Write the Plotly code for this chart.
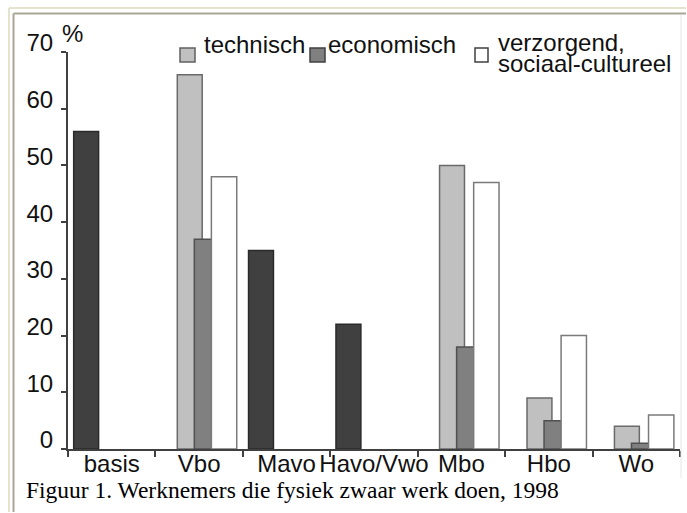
import plotly.graph_objects as go

categories = ["basis", "Vbo", "Mavo", "Havo/Vwo", "Mbo", "Hbo", "Wo"]
algemeen = [56, None, 35, 22, None, None, None]
technisch = [None, 66, None, None, 50, 9, 4]
economisch = [None, 37, None, None, 18, 5, 1]
verzorgend = [None, 48, None, None, 47, 20, 6]
y_ticks = [0, 10, 20, 30, 40, 50, 60, 70]

W, H = 687, 513
L, R, T, B = 68, 7, 52, 64
PW, PH = W - L - R, H - T - B


def px(x):
    return (x - L) / PW


def py(y):
    return (H - B - y) / PH


fig = go.Figure()
fig.add_trace(go.Bar(x=categories, y=algemeen, name="algemeen", showlegend=False,
                     offset=-0.435, width=0.285,
                     marker=dict(color="#404040", line=dict(color="#2a2a2a", width=1.5))))
fig.add_trace(go.Bar(x=categories, y=technisch, name="technisch", showlegend=False,
                     offset=-0.25, width=0.285,
                     marker=dict(color="#c0c0c0", line=dict(color="#6a6a6a", width=1.5))))
fig.add_trace(go.Bar(x=categories, y=economisch, name="economisch", showlegend=False,
                     offset=-0.055, width=0.2,
                     marker=dict(color="#808080", line=dict(color="#505050", width=1.5))))
fig.add_trace(go.Bar(x=categories, y=verzorgend, name="verzorgend, sociaal-cultureel", showlegend=False,
                     offset=0.14, width=0.29,
                     marker=dict(color="#ffffff", line=dict(color="#7a7a7a", width=1.5))))

font = dict(family="Liberation Sans, Arial", size=24, color="#111111")

shapes = []
# page frame
frame = [
    (9, 8, 9, 512, "#e6e2cc", 2),
    (9, 8, 686, 8, "#e6e2cc", 2),
    (13.5, 13.5, 13.5, 512, "#a8a898", 2),
    (13.5, 13.5, 686, 13.5, "#a8a898", 2),
    (681, 15, 681, 478, "#e6e6e6", 1),
]
for x0, y0, x1, y1, c, w in frame:
    shapes.append(dict(type="line", xref="paper", yref="paper", x0=px(x0), x1=px(x1), y0=py(y0), y1=py(y1),
                       line=dict(color=c, width=w), layer="above"))

# legend markers
legend_items = [
    (180, 195, "#c0c0c0", "#606060"),
    (310, 325, "#808080", "#404040"),
    (475, 488, "#ffffff", "#404040"),
]
for x0, x1, fc, lc in legend_items:
    shapes.append(dict(type="rect", xref="paper", yref="paper", x0=px(x0), x1=px(x1), y0=py(62), y1=py(48),
                       fillcolor=fc, line=dict(color=lc, width=1.5)))

annotations = [
    dict(text="technisch", x=px(202), y=py(44), xanchor="left", yanchor="middle"),
    dict(text="economisch", x=px(326), y=py(44), xanchor="left", yanchor="middle"),
    dict(text="verzorgend,", x=px(496), y=py(43), xanchor="left", yanchor="middle"),
    dict(text="sociaal-cultureel", x=px(496), y=py(64), xanchor="left", yanchor="middle"),
    dict(text="%", x=px(72), y=py(34), xanchor="center", yanchor="middle"),
]
for a in annotations:
    a.update(xref="paper", yref="paper", showarrow=False, font=font)
annotations.append(dict(text="Figuur 1. Werknemers die fysiek zwaar werk doen, 1998",
                        xref="paper", yref="paper", x=px(24), y=py(490), xanchor="left", yanchor="middle",
                        showarrow=False,
                        font=dict(family="Liberation Serif, Times New Roman", size=23.5, color="#000000")))

fig.update_layout(
    width=W, height=H,
    margin=dict(l=L, r=R, t=T, b=B, pad=0, autoexpand=False),
    paper_bgcolor="#ffffff", plot_bgcolor="#ffffff",
    barmode="overlay",
    showlegend=False,
    shapes=shapes,
    annotations=annotations,
    xaxis=dict(type="category", range=[-0.5, 6.5], showline=True, linecolor="#404040", linewidth=2,
               ticks="outside", ticklen=6, tickwidth=2, tickcolor="#404040", tickson="boundaries",
               tickangle=0, automargin=False, ticklabelstandoff=-8,
               showgrid=False, zeroline=False, tickfont=font, fixedrange=True),
    yaxis=dict(range=[0, 70], tickvals=y_ticks, showline=True, linecolor="#404040", linewidth=2,
               ticks="outside", ticklen=5, tickwidth=2, tickcolor="#404040", automargin=False,
               showgrid=False, zeroline=False, tickfont=font, ticklabelshift=-9, ticklabelstandoff=3,
               fixedrange=True),
)

fig.write_html("out.html", config={"displayModeBar": False},
               post_script="document.body.style.margin='0px';document.body.style.overflow='hidden';")
